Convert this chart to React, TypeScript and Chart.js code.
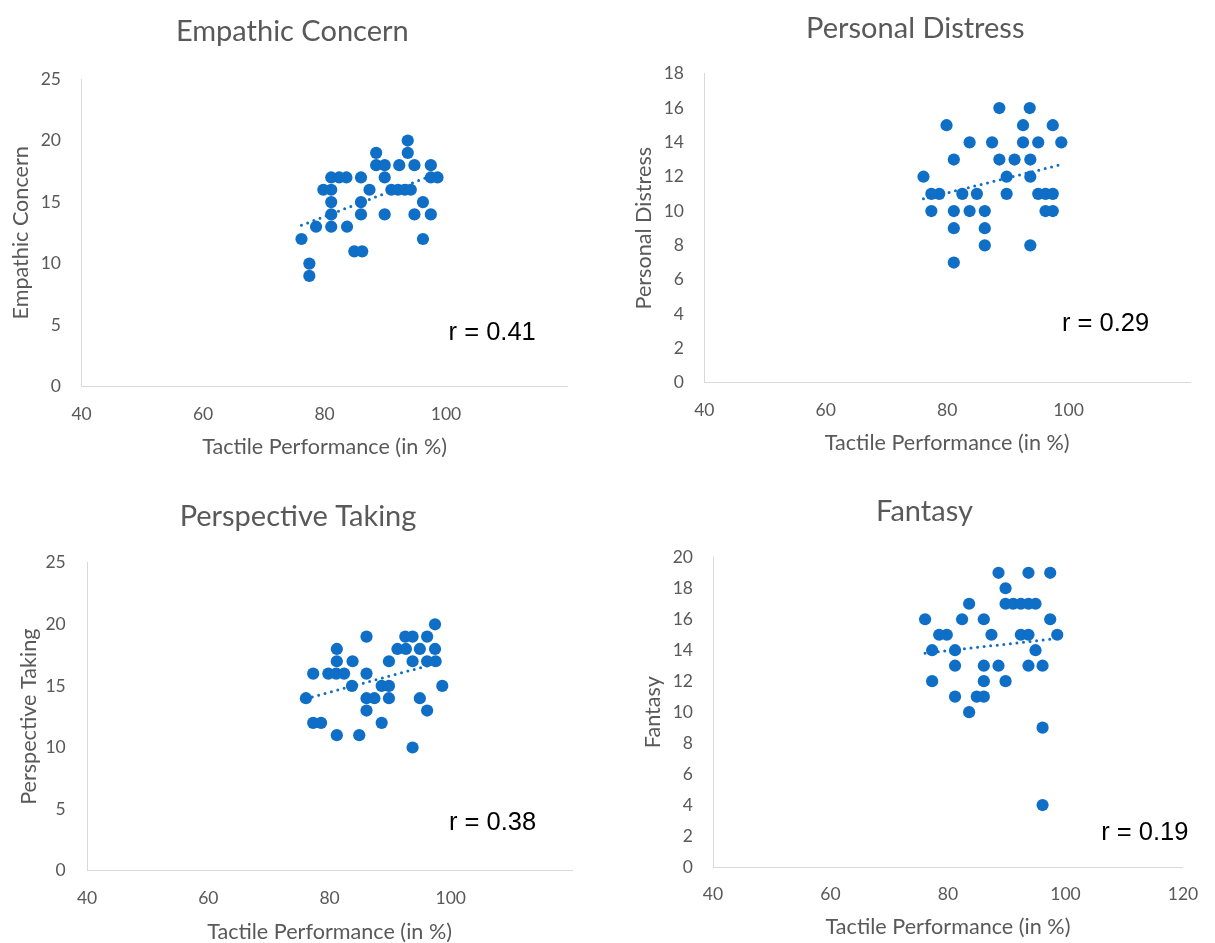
import React, { useEffect, useRef } from 'react';
import { Chart, registerables } from 'chart.js';

Chart.register(...registerables);

// ---------------- data ----------------
const xTickValues = [40, 60, 80, 100, 120];

const empathicX = [93.7, 88.5, 93.7, 88.5, 89.9, 92.3, 94.8, 97.5, 81.1, 82.4, 83.6, 86.0, 89.9, 97.5, 98.6, 79.8, 81.1, 87.4, 91.0, 92.1, 93.2, 94.2, 81.1, 86.0, 96.2, 81.1, 86.0, 89.9, 94.8, 97.5, 78.6, 81.1, 83.7, 76.2, 96.2, 84.9, 86.2, 77.5, 77.5];
const empathicY = [20, 19, 19, 18, 18, 18, 18, 18, 17, 17, 17, 17, 17, 17, 17, 16, 16, 16, 16, 16, 16, 16, 15, 15, 15, 14, 14, 14, 14, 14, 13, 13, 13, 12, 12, 11, 11, 10, 9];

const distressX = [88.6, 93.6, 79.9, 92.5, 97.4, 83.7, 87.4, 92.5, 95.0, 98.8, 81.1, 88.6, 91.1, 93.7, 76.1, 89.8, 93.7, 77.4, 78.7, 82.5, 84.9, 89.8, 95.0, 96.2, 97.4, 77.4, 81.1, 83.7, 86.2, 96.2, 97.4, 81.1, 86.2, 86.2, 93.7, 81.1];
const distressY = [16, 16, 15, 15, 15, 14, 14, 14, 14, 14, 13, 13, 13, 13, 12, 12, 12, 11, 11, 11, 11, 11, 11, 11, 11, 10, 10, 10, 10, 10, 10, 9, 9, 8, 8, 7];

const perspectiveX = [97.4, 86.1, 92.5, 93.7, 96.1, 81.2, 91.2, 92.6, 94.9, 97.4, 81.2, 83.8, 89.8, 93.7, 96.1, 97.5, 77.3, 79.8, 81.1, 82.4, 86.1, 83.7, 88.6, 89.8, 98.6, 76.1, 86.1, 87.4, 89.8, 94.9, 86.1, 96.1, 77.3, 78.6, 88.6, 81.2, 84.9, 93.7];
const perspectiveY = [20, 19, 19, 19, 19, 18, 18, 18, 18, 18, 17, 17, 17, 17, 17, 17, 16, 16, 16, 16, 16, 15, 15, 15, 15, 14, 14, 14, 14, 14, 13, 13, 12, 12, 12, 11, 11, 10];

const fantasyX = [88.6, 93.7, 97.4, 89.8, 83.6, 89.8, 91.1, 92.4, 93.7, 94.9, 76.1, 82.4, 86.1, 97.4, 78.5, 79.8, 87.4, 92.4, 93.7, 98.6, 77.3, 81.2, 94.9, 81.2, 86.1, 88.6, 93.7, 96.1, 77.3, 86.1, 89.8, 81.2, 84.9, 86.1, 83.6, 96.1, 96.1];
const fantasyY = [19, 19, 19, 18, 17, 17, 17, 17, 17, 17, 16, 16, 16, 16, 15, 15, 15, 15, 15, 15, 14, 14, 14, 13, 13, 13, 13, 13, 12, 12, 12, 11, 11, 11, 10, 9, 4];

const panelTitles = ['Empathic Concern', 'Personal Distress', 'Perspective Taking', 'Fantasy'];
const rLabels = ['r = 0.41', 'r = 0.29', 'r = 0.38', 'r = 0.19'];
const yMaxValues = [25, 18, 25, 20];
const yStepValues = [5, 2, 5, 2];
const xAxisTitle = 'Tactile Performance (in %)';

// ---------------- styles / layout ----------------
const BLUE = '#0F6EC6';
const GREY = '#595959';
const AXIS = '#D9D9D9';
const FONT = 'Lato';
const TICK_SIZE = 17.5;
const AXIS_TITLE_SIZE = 21.6;
const TITLE_SIZE = 29;
const R_SIZE = 25.5;

type Geo = {
  x: number; y: number; w: number; h: number;
  L: number; R: number; T: number; B: number;
  titleX: number; titleBase: number; yTitleX: number; xTitleY: number;
  xTickY: number; yTickRight: number; rx: number; ry: number; show120: boolean;
};

const geos: Geo[] = [
  { x: 0, y: 0, w: 607, h: 470, L: 81.6, R: 567.5, T: 79, B: 386.7, titleX: 292.3, titleBase: 40.7, yTitleX: 21, xTitleY: 446.7, xTickY: 414, yTickRight: 61, rx: 107.6, ry: 4.34, show120: false },
  { x: 607, y: 0, w: 608, h: 470, L: 704.3, R: 1190, T: 73.7, B: 382.7, titleX: 915.3, titleBase: 37.7, yTitleX: 644, xTitleY: 443, xTickY: 410, yTickRight: 684, rx: 106.1, ry: 3.45, show120: false },
  { x: 0, y: 470, w: 607, h: 473, L: 87.1, R: 572, T: 562.7, B: 870.7, titleX: 298, titleBase: 526, yTitleX: 28.7, xTitleY: 931.7, xTickY: 898.3, yTickRight: 65.7, rx: 106.9, ry: 3.85, show120: false },
  { x: 607, y: 470, w: 608, h: 473, L: 713, R: 1198.3, T: 557.3, B: 867, titleX: 924.5, titleBase: 520.7, yTitleX: 653.2, xTitleY: 926.7, xTickY: 894.3, yTickRight: 693, rx: 113.5, ry: 2.18, show120: true },
];

const seriesX = [empathicX, distressX, perspectiveX, fantasyX];
const seriesY = [empathicY, distressY, perspectiveY, fantasyY];

function trendPoints(xs: number[], ys: number[]) {
  const n = xs.length;
  const mx = xs.reduce((a, b) => a + b, 0) / n;
  const my = ys.reduce((a, b) => a + b, 0) / n;
  let sxy = 0, sxx = 0;
  for (let i = 0; i < n; i++) {
    sxy += (xs[i] - mx) * (ys[i] - my);
    sxx += (xs[i] - mx) * (xs[i] - mx);
  }
  const slope = sxy / sxx;
  const icpt = my - slope * mx;
  const x0 = Math.min(...xs);
  const x1 = Math.max(...xs);
  return [{ x: x0, y: icpt + slope * x0 }, { x: x1, y: icpt + slope * x1 }];
}

const panelTextPlugin = {
  id: 'panelText',
  afterDraw(chart: any, _args: any, opts: any) {
    const { ctx, scales } = chart;
    ctx.save();
    ctx.fillStyle = GREY;
    ctx.font = `${TITLE_SIZE}px ${FONT}`;
    ctx.textAlign = 'center';
    ctx.textBaseline = 'alphabetic';
    ctx.fillText(opts.title, opts.titleX, opts.titleY);
    ctx.fillStyle = '#000000';
    ctx.font = `${R_SIZE}px "Liberation Sans", Arial, sans-serif`;
    ctx.textBaseline = 'middle';
    ctx.fillText(opts.r, scales.x.getPixelForValue(opts.rx), scales.y.getPixelForValue(opts.ry));
    ctx.restore();
  },
};

function buildConfig(i: number): any {
  const g = geos[i];
  const xs = seriesX[i];
  const ys = seriesY[i];
  const pts = xs.map((x, k) => ({ x, y: ys[k] }));
  const tickFont = { family: FONT, size: TICK_SIZE, lineHeight: 1.2 };
  const titleFont = { family: FONT, size: AXIS_TITLE_SIZE, lineHeight: 1 };
  const yWidth = g.L - g.x;
  const xHeight = g.y + g.h - g.B;
  return {
    type: 'scatter',
    data: {
      datasets: [
        {
          data: trendPoints(xs, ys),
          showLine: true,
          borderColor: BLUE,
          borderWidth: 3,
          borderDash: [0, 6.6],
          borderCapStyle: 'round',
          pointRadius: 0,
          pointHoverRadius: 0,
          fill: false,
        },
        {
          data: pts,
          backgroundColor: BLUE,
          borderColor: BLUE,
          borderWidth: 0,
          pointRadius: 6.1,
          pointHoverRadius: 6.1,
        },
      ],
    },
    options: {
      responsive: false,
      animation: false,
      events: [],
      layout: { padding: { left: 0, top: g.T - g.y, right: g.x + g.w - g.R, bottom: 0 } },
      plugins: {
        legend: { display: false },
        tooltip: { enabled: false },
        title: { display: false },
        panelText: {
          title: panelTitles[i],
          titleX: g.titleX - g.x,
          titleY: g.titleBase - g.y,
          r: rLabels[i],
          rx: g.rx,
          ry: g.ry,
        },
      },
      scales: {
        x: {
          type: 'linear',
          min: xTickValues[0],
          max: xTickValues[xTickValues.length - 1],
          afterBuildTicks: (s: any) => { s.ticks = xTickValues.map((v) => ({ value: v })); },
          ticks: {
            color: GREY,
            font: tickFont,
            padding: g.xTickY - g.B - (TICK_SIZE * 1.2) / 2,
            maxRotation: 0,
            autoSkip: false,
            callback: (v: number) => (v === 120 && !g.show120 ? '' : String(v)),
          },
          grid: { display: false, drawTicks: false },
          border: { display: true, color: AXIS, width: 1 },
          title: {
            display: true,
            text: xAxisTitle,
            color: GREY,
            font: titleFont,
            padding: { top: 0, bottom: g.y + g.h - g.xTitleY - AXIS_TITLE_SIZE / 2 },
          },
          afterFit: (s: any) => { s.height = xHeight; },
        },
        y: {
          type: 'linear',
          min: 0,
          max: yMaxValues[i],
          ticks: {
            stepSize: yStepValues[i],
            color: GREY,
            font: tickFont,
            padding: g.L - g.yTickRight,
          },
          grid: { display: false, drawTicks: false },
          border: { display: true, color: AXIS, width: 1 },
          title: {
            display: true,
            text: panelTitles[i],
            color: GREY,
            font: titleFont,
            padding: { top: g.yTitleX - g.x - AXIS_TITLE_SIZE / 2, bottom: 0 },
          },
          afterFit: (s: any) => { s.width = yWidth; },
        },
      },
    },
    plugins: [panelTextPlugin],
  };
}

function Panel({ index }: { index: number }) {
  const ref = useRef<HTMLCanvasElement>(null);
  const g = geos[index];
  useEffect(() => {
    if (!ref.current) return;
    const chart = new Chart(ref.current, buildConfig(index));
    let alive = true;
    const fonts: any = (document as any).fonts;
    if (fonts && fonts.load) {
      Promise.all([
        fonts.load(`${TICK_SIZE}px ${FONT}`),
        fonts.load(`${TITLE_SIZE}px ${FONT}`),
        fonts.load(`${R_SIZE}px "Liberation Sans"`),
      ]).then(() => { if (alive) chart.update(); }).catch(() => {});
    }
    return () => { alive = false; chart.destroy(); };
  }, [index]);
  return (
    <canvas
      ref={ref}
      width={g.w}
      height={g.h}
      style={{ position: 'absolute', left: g.x, top: g.y, width: g.w, height: g.h }}
    />
  );
}

export default function App() {
  return (
    <div style={{ position: 'absolute', left: 0, top: 0, width: 1215, height: 943, background: '#ffffff', overflow: 'hidden' }}>
      {geos.map((_, i) => (
        <Panel key={i} index={i} />
      ))}
    </div>
  );
}
